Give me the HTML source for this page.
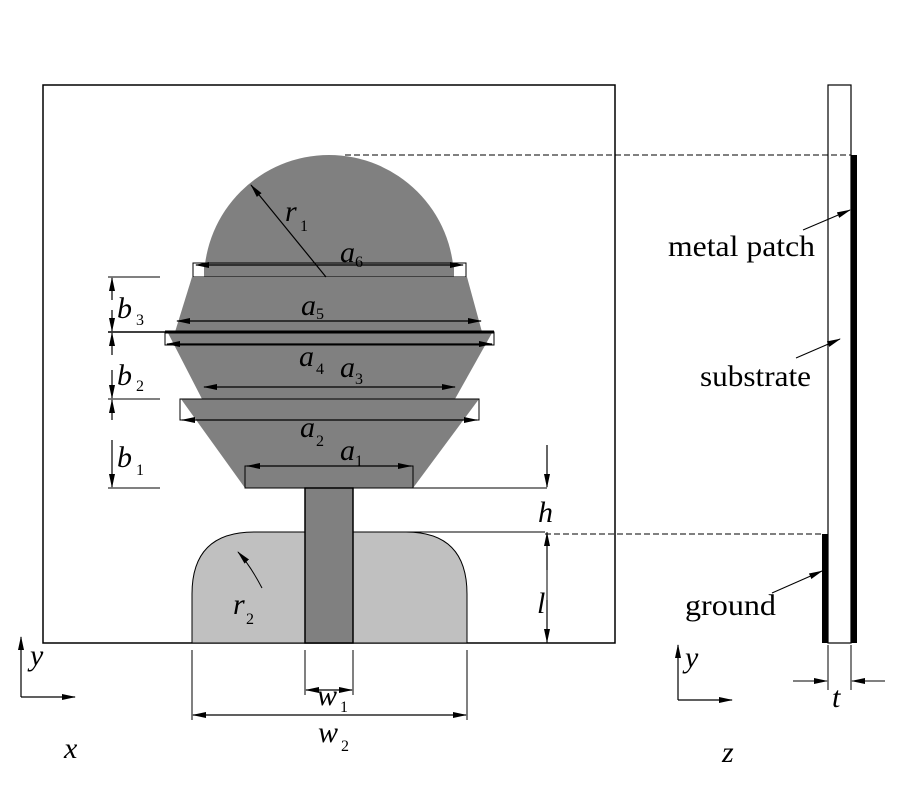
<!DOCTYPE html>
<html><head><style>body{margin:0;background:#fff}svg{display:block}</style></head><body>
<svg width="900" height="800" viewBox="0 0 900 800" xmlns="http://www.w3.org/2000/svg" font-family="Liberation Serif, serif">
<defs>
<marker id="a" markerWidth="14" markerHeight="8" refX="13" refY="4" orient="auto" markerUnits="userSpaceOnUse"><path d="M0,1 L14,4 L0,7 Z" fill="#000"/></marker>
<marker id="b" markerWidth="14" markerHeight="8" refX="1" refY="4" orient="auto" markerUnits="userSpaceOnUse"><path d="M14,1 L0,4 L14,7 Z" fill="#000"/></marker>
<clipPath id="cc"><rect x="0" y="0" width="900" height="264"/></clipPath>
</defs>
<rect x="43" y="85" width="572" height="558" fill="none" stroke="#000" stroke-width="1.5"/>
<path d="M192,643 L192,594 Q192,532 254,532 L406,532 Q467,532 467,594 L467,643 Z" fill="#c0c0c0" stroke="#000" stroke-width="1"/>
<circle cx="329" cy="280" r="125" fill="#808080" clip-path="url(#cc)"/>
<rect x="204" y="263" width="250" height="14" fill="#808080"/>
<rect x="193" y="263" width="273" height="14" fill="none" stroke="#000"/>
<polygon points="192,277 467,277 482,332 175,332" fill="#808080"/>
<polygon points="168,333 492,333 455,399 202,399" fill="#808080"/>
<rect x="165" y="332" width="329" height="13" fill="none" stroke="#000"/>
<line x1="165" y1="332" x2="494" y2="332" stroke="#000" stroke-width="3"/>
<polygon points="181,399 479,399 413,488 245,488" fill="#808080"/>
<rect x="180" y="399" width="299" height="21" fill="none" stroke="#000"/>
<rect x="245" y="466" width="168" height="22" fill="#808080" stroke="#000"/>
<rect x="305" y="488" width="48" height="155" fill="#808080" stroke="#000" stroke-width="1.5"/>
<g stroke="#000" stroke-width="1.2">
<line x1="196" y1="265" x2="463" y2="265" marker-start="url(#b)" marker-end="url(#a)"/>
<line x1="177" y1="321" x2="481" y2="321" marker-start="url(#b)" marker-end="url(#a)"/>
<line x1="167" y1="344" x2="492" y2="344" marker-start="url(#b)" marker-end="url(#a)"/>
<line x1="204" y1="387" x2="455" y2="387" marker-start="url(#b)" marker-end="url(#a)"/>
<line x1="182" y1="420" x2="477" y2="420" marker-start="url(#b)" marker-end="url(#a)"/>
<line x1="247" y1="466" x2="411" y2="466" marker-start="url(#b)" marker-end="url(#a)"/>
<line x1="326" y1="277" x2="251" y2="185" marker-end="url(#a)"/>
<path d="M262,588 Q250,565 238,552" fill="none" stroke-width="1" marker-end="url(#a)"/>
<line x1="108" y1="277" x2="160" y2="277" stroke-width="1"/>
<line x1="108" y1="332" x2="165" y2="332" stroke-width="1.5"/>
<line x1="108" y1="399" x2="160" y2="399" stroke-width="1"/>
<line x1="108" y1="488" x2="160" y2="488" stroke-width="1"/>
<line x1="112" y1="300" x2="112" y2="278" marker-end="url(#a)"/>
<line x1="112" y1="310" x2="112" y2="331" marker-end="url(#a)"/>
<line x1="112" y1="355" x2="112" y2="333" marker-end="url(#a)"/>
<line x1="112" y1="370" x2="112" y2="398" marker-end="url(#a)"/>
<line x1="112" y1="420" x2="112" y2="400" marker-end="url(#a)"/>
<line x1="112" y1="440" x2="112" y2="487" marker-end="url(#a)"/>
<line x1="413" y1="488" x2="547" y2="488" stroke-width="1"/>
<line x1="547" y1="445" x2="547" y2="487" marker-end="url(#a)"/>
<line x1="355" y1="532" x2="545" y2="532" stroke-width="1"/>
<line x1="547" y1="532" x2="547" y2="643" stroke-width="1"/>
<line x1="547" y1="570" x2="547" y2="533" marker-end="url(#a)"/>
<line x1="547" y1="600" x2="547" y2="642" marker-end="url(#a)"/>
<line x1="192" y1="650" x2="192" y2="720" stroke-width="1"/>
<line x1="467" y1="650" x2="467" y2="720" stroke-width="1"/>
<line x1="305" y1="650" x2="305" y2="695" stroke-width="1"/>
<line x1="353" y1="650" x2="353" y2="695" stroke-width="1"/>
<line x1="329" y1="690" x2="306" y2="690" marker-end="url(#a)"/>
<line x1="329" y1="690" x2="352" y2="690" marker-end="url(#a)"/>
<line x1="193" y1="715" x2="466" y2="715" marker-start="url(#b)" marker-end="url(#a)"/>
<line x1="21" y1="697" x2="21" y2="637" marker-end="url(#a)"/>
<line x1="21" y1="697" x2="75" y2="697" marker-end="url(#a)"/>
<line x1="678" y1="700" x2="678" y2="645" marker-end="url(#a)"/>
<line x1="678" y1="700" x2="732" y2="700" marker-end="url(#a)"/>
</g>
<g stroke="#000" stroke-width="1" stroke-dasharray="6,3">
<line x1="345" y1="155" x2="851" y2="155"/>
<line x1="545" y1="534" x2="822" y2="534"/>
</g>
<rect x="828" y="85" width="23" height="558" fill="none" stroke="#000" stroke-width="1.2"/>
<rect x="851" y="155" width="6" height="488" fill="#000"/>
<rect x="822" y="534" width="6" height="109" fill="#000"/>
<g stroke="#000" stroke-width="1">
<line x1="828" y1="645" x2="828" y2="690"/>
<line x1="851" y1="645" x2="851" y2="690"/>
<line x1="793" y1="681" x2="827" y2="681" marker-end="url(#a)"/>
<line x1="885" y1="681" x2="852" y2="681" marker-end="url(#a)"/>
<line x1="803" y1="230" x2="850" y2="210" marker-end="url(#a)"/>
<line x1="796" y1="358" x2="840" y2="339" marker-end="url(#a)"/>
<line x1="772" y1="593" x2="822" y2="571" marker-end="url(#a)"/>
</g>
<g font-size="30" fill="#000">
<text x="668" y="256" textLength="147" lengthAdjust="spacingAndGlyphs">metal patch</text>
<text x="700" y="386" textLength="111" lengthAdjust="spacingAndGlyphs">substrate</text>
<text x="685" y="615" textLength="91" lengthAdjust="spacingAndGlyphs">ground</text>
</g>
<g font-style="italic" font-size="30" fill="#000">
<text x="285" y="221">r</text><text x="300" y="231" font-size="16" font-style="normal">1</text>
<text x="340" y="262">a</text><text x="355" y="267" font-size="16" font-style="normal">6</text>
<text x="301" y="315">a</text><text x="316" y="319" font-size="16" font-style="normal">5</text>
<text x="299" y="366">a</text><text x="316" y="374" font-size="16" font-style="normal">4</text>
<text x="340" y="377">a</text><text x="355" y="384" font-size="16" font-style="normal">3</text>
<text x="300" y="437">a</text><text x="316" y="446" font-size="16" font-style="normal">2</text>
<text x="340" y="460">a</text><text x="355" y="466" font-size="16" font-style="normal">1</text>
<text x="117" y="318">b</text><text x="136" y="325" font-size="16" font-style="normal">3</text>
<text x="117" y="385">b</text><text x="136" y="391" font-size="16" font-style="normal">2</text>
<text x="117" y="467">b</text><text x="136" y="475" font-size="16" font-style="normal">1</text>
<text x="538" y="522">h</text>
<text x="537" y="613">l</text>
<text x="233" y="614">r</text><text x="246" y="624" font-size="16" font-style="normal">2</text>
<text x="317" y="705">w</text><text x="340" y="712" font-size="16" font-style="normal">1</text>
<text x="318" y="742">w</text><text x="341" y="751" font-size="16" font-style="normal">2</text>
<text x="30" y="665">y</text>
<text x="64" y="758">x</text>
<text x="685" y="667">y</text>
<text x="722" y="762">z</text>
<text x="832" y="707">t</text>
</g>
</svg>
</body></html>
